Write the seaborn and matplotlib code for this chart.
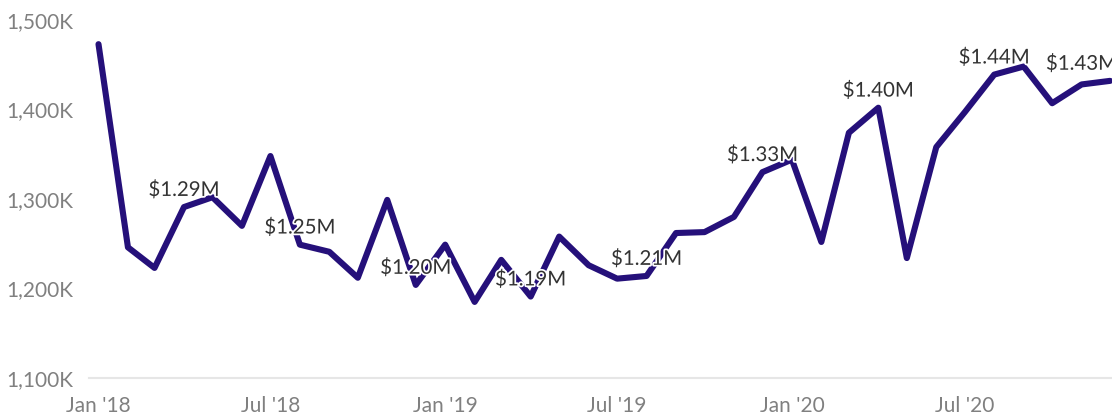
import matplotlib
matplotlib.use("Agg")
import matplotlib.pyplot as plt
import matplotlib.dates as mdates
import matplotlib.patheffects as pe
from matplotlib.ticker import FuncFormatter
import pandas as pd
import seaborn as sns

# monthly values in thousands of dollars (Jan 2018 .. Dec 2020)
months = pd.date_range("2018-01-01", periods=36, freq="MS")
values = [1473, 1246, 1223, 1291, 1302, 1270, 1348, 1249, 1241, 1212, 1299, 1204,
          1249, 1185, 1232, 1191, 1258, 1226, 1211, 1214, 1262, 1263, 1280, 1330,
          1344, 1252, 1374, 1402, 1234, 1358, 1397, 1439, 1448, 1407, 1428, 1432]
label_idx = list(range(3, 36, 4))
yticks = [1100, 1200, 1300, 1400, 1500]

df = pd.DataFrame({"month": months, "value": values})

sns.set_style("white")
plt.rcParams["font.family"] = ["Lato", "DejaVu Sans"]

fig = plt.figure(figsize=(11.12, 4.15), dpi=100)
ax = fig.add_axes([89 / 1112, 1 - 378 / 415, 1 - 89 / 1112, (378 - 20) / 415])

sns.lineplot(data=df, x="month", y="value", ax=ax, color="#25107a",
             linewidth=4.4, solid_capstyle="round", solid_joinstyle="round")

for i in label_idx:
    last = i == len(values) - 1
    ax.annotate(f"${values[i] / 1000:.2f}M", (df["month"][i], values[i]),
                xytext=(5 if last else 0, 8), textcoords="offset points",
                ha="right" if last else "center", va="baseline",
                fontsize=14.7, color="#333333", annotation_clip=False,
                path_effects=[pe.withStroke(linewidth=2.5, foreground="white")])

ax.set_ylim(1100, 1500)
ax.set_yticks(yticks)
ax.yaxis.set_major_formatter(FuncFormatter(lambda v, p: f"{v:,.0f}K"))
ax.set_xlim(pd.Timestamp("2017-12-22"), pd.Timestamp("2020-12-03"))
ax.xaxis.set_major_locator(mdates.MonthLocator(bymonth=[1, 7]))
ax.xaxis.set_major_formatter(mdates.DateFormatter("%b '%y"))

ax.set_xlabel("")
ax.set_ylabel("")
for s in ["top", "right", "left"]:
    ax.spines[s].set_visible(False)
ax.spines["bottom"].set_color("#e6e6e6")
ax.spines["bottom"].set_linewidth(1.5)
ax.tick_params(axis="both", length=0, labelsize=15, labelcolor="#808080")
ax.tick_params(axis="y", pad=11)
ax.tick_params(axis="x", pad=13)
ax.grid(False)

fig.savefig("out.png", dpi=100)
